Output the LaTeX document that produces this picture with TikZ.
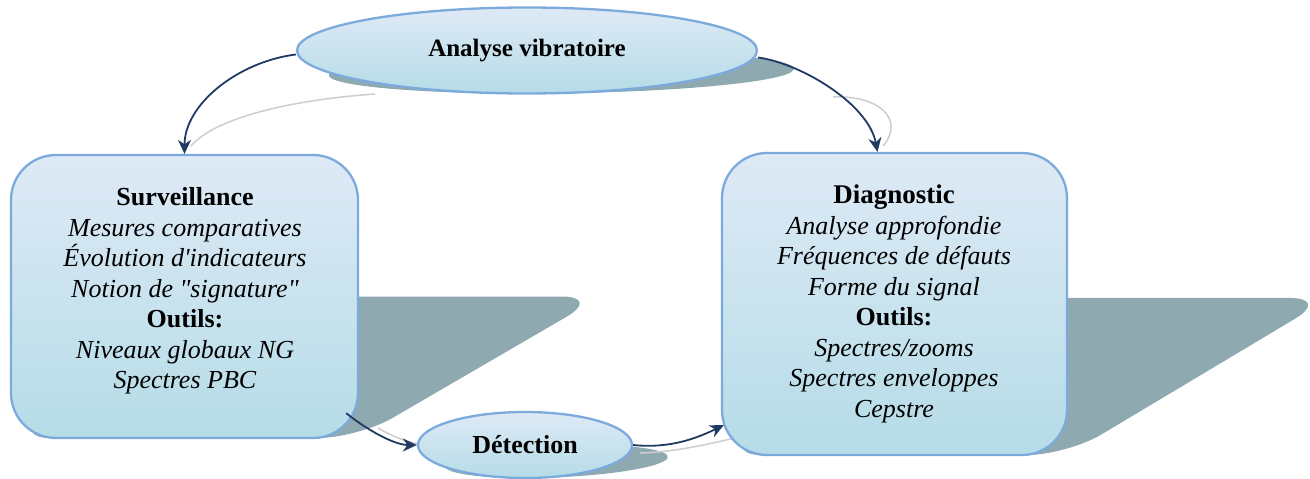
\documentclass[tikz,border=0pt]{standalone}
\usepackage{fontspec}
\newfontfamily\tnr{Liberation Serif}
\usetikzlibrary{shapes.geometric,arrows.meta,calc}
\definecolor{boxtop}{HTML}{DEEAF6}
\definecolor{boxbot}{HTML}{B5DCE7}
\definecolor{boxline}{HTML}{7DAADC}
\definecolor{shadowc}{HTML}{8EAAB0}
\definecolor{navy}{HTML}{1F3B63}
\definecolor{ghost}{HTML}{CDCDCD}
\begin{document}
\begin{tikzpicture}[x=1pt,y=-1pt,
  panel/.style={draw=boxline, line width=2.3pt, rounded corners=45pt,
    top color=boxtop, bottom color=boxbot, inner sep=0pt},
  oval/.style={ellipse, draw=boxline, line width=2.3pt,
    top color=boxtop, bottom color=boxbot, inner sep=0pt},
  flow/.style={draw=navy, line width=1.8pt,
    -{Stealth[length=14pt,width=13pt,inset=4.5pt]}},
  ghostline/.style={draw=ghost, line width=1.5pt},
  body/.style={align=center, inner sep=0pt,
    font=\tnr\fontsize{26}{30.5}\selectfont}]

\useasboundingbox (0,0) rectangle (1310,479);

% slanted cast shadows behind the shapes
\fill[shadowc, cm={1,0,0.8,0.5,(74.8pt,-46.75pt)}]
  (527,50.5) ellipse [x radius=230pt, y radius=43pt];
\fill[shadowc, rounded corners=40pt, cm={1,0,0.86,0.5,(376.7pt,-219pt)}]
  (11,155) rectangle (358,438);
\fill[shadowc, rounded corners=40pt, cm={1,0,0.87,0.52,(395.9pt,-218.4pt)}]
  (722,153) rectangle (1067,455);
\fill[shadowc, cm={1,0,0.95,0.5,(454.1pt,-239pt)}]
  (525,445) ellipse [x radius=107pt, y radius=33pt];

% faint shadows of the connectors
\draw[ghostline] (375,94) .. controls (290,100) and (215,118) .. (191,146);
\draw[ghostline] (833,97) .. controls (880,95) and (905,120) .. (883,146);
\draw[ghostline] (378,428) .. controls (395,438) and (410,443) .. (425,445);
\draw[ghostline] (640,453) .. controls (680,452) and (715,442) .. (745,436);

% shapes
\node[oval, minimum width=460pt, minimum height=86pt] (top) at (527,50.5)
  {\tnr\fontsize{25}{30}\selectfont\bfseries Analyse vibratoire};
\node[panel, minimum width=347pt, minimum height=283pt] (surv) at (184.5,296.5) {};
\node[body] (survtext) at (185,291)
  {\textbf{Surveillance}\\
   \textit{Mesures comparatives}\\
   \textit{Évolution d'indicateurs}\\
   \textit{Notion de "signature"}\\
   \textbf{Outils:}\\
   \textit{Niveaux globaux NG}\\
   \textit{Spectres PBC}};
\node[panel, minimum width=345pt, minimum height=302pt] (diag) at (894.5,304) {};
\node[body] (diagtext) at (894,304)
  {{\fontsize{27}{30.5}\selectfont\bfseries Diagnostic}\\
   \textit{Analyse approfondie}\\
   \textit{Fréquences de défauts}\\
   \textit{Forme du signal}\\
   \textbf{Outils:}\\
   \textit{Spectres/zooms}\\
   \textit{Spectres enveloppes}\\
   \textit{Cepstre}};
\node[oval, minimum width=214pt, minimum height=66pt] (det) at (525,445)
  {\tnr\fontsize{26}{30}\selectfont\bfseries Détection};

% connectors
\draw[flow] ([yshift=-4pt]top.west) .. controls +(-57,7) and +(0,-50) .. (surv.north);
\draw[flow] ([yshift=-7pt]top.east) .. controls +(43,6) and +(-9,-48) .. ([xshift=-17pt]diag.north);
\draw[flow] ($(surv.south east)+(-13,-26)$) .. controls +(20,16) and +(-23,0) .. (det.west);
\draw[flow] (det.east) .. controls +(38,4) and +(-25,12) .. ($(diag.south west)+(3,-31)$);
\end{tikzpicture}
\end{document}
